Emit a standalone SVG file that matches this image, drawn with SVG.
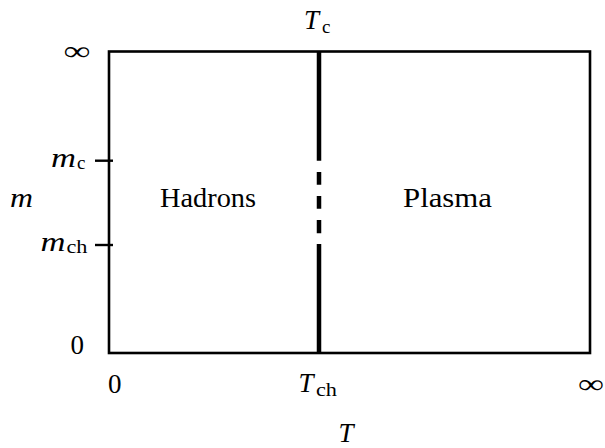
<svg xmlns="http://www.w3.org/2000/svg" width="605" height="448" viewBox="0 0 605 448">
<style>
.t{fill:#000;font-size:27px}
.i{font-style:italic}
.s{font-size:19px}
.frame{fill:none;stroke:#000;stroke-width:2.6}
.tick{stroke:#000;stroke-width:2.4}
.phase{stroke:#000;stroke-width:4.5;fill:none}
</style>
<rect width="605" height="448" fill="#fff"/>
<g id="frame"><rect class="frame" x="109" y="51.5" width="481" height="301.5"/></g>
<g id="connectors">
<path class="phase" d="M319 51.5V160.7M319 172V184.7M319 196V208.7M319 220V233.3M319 244V353"/>
<line class="tick" x1="95" y1="160.7" x2="113" y2="160.7"/>
<line class="tick" x1="95" y1="245" x2="113" y2="245"/>
</g>
<g font-family="Liberation Serif, Times New Roman, serif">
<g id="hadrons"><text class="t" x="160" y="207" textLength="96" lengthAdjust="spacingAndGlyphs">Hadrons</text></g>
<g id="plasma"><text class="t" x="403" y="207" textLength="89" lengthAdjust="spacingAndGlyphs">Plasma</text></g>
<g id="labels">
<text class="t" x="63.5" y="60" textLength="27" lengthAdjust="spacingAndGlyphs">∞</text>
<text class="t" x="578" y="393" textLength="26" lengthAdjust="spacingAndGlyphs">∞</text>
<text class="t" x="70.5" y="354">0</text>
<text class="t" x="108" y="393">0</text>
<text class="t i" x="10" y="207" textLength="23" lengthAdjust="spacingAndGlyphs">m</text>
<text class="t i" x="51" y="167" textLength="25" lengthAdjust="spacingAndGlyphs">m</text><text class="t s" x="77" y="169">c</text>
<text class="t i" x="40.5" y="251" textLength="25" lengthAdjust="spacingAndGlyphs">m</text><text class="t s" x="66.5" y="253" textLength="21" lengthAdjust="spacingAndGlyphs">ch</text>
<text class="t i" x="304" y="29">T</text><text class="t s" x="322" y="33">c</text>
<text class="t i" x="298.5" y="392">T</text><text class="t s" x="316" y="396" textLength="21" lengthAdjust="spacingAndGlyphs">ch</text>
<text class="t i" x="338.5" y="442">T</text>
</g>
</g>
</svg>
